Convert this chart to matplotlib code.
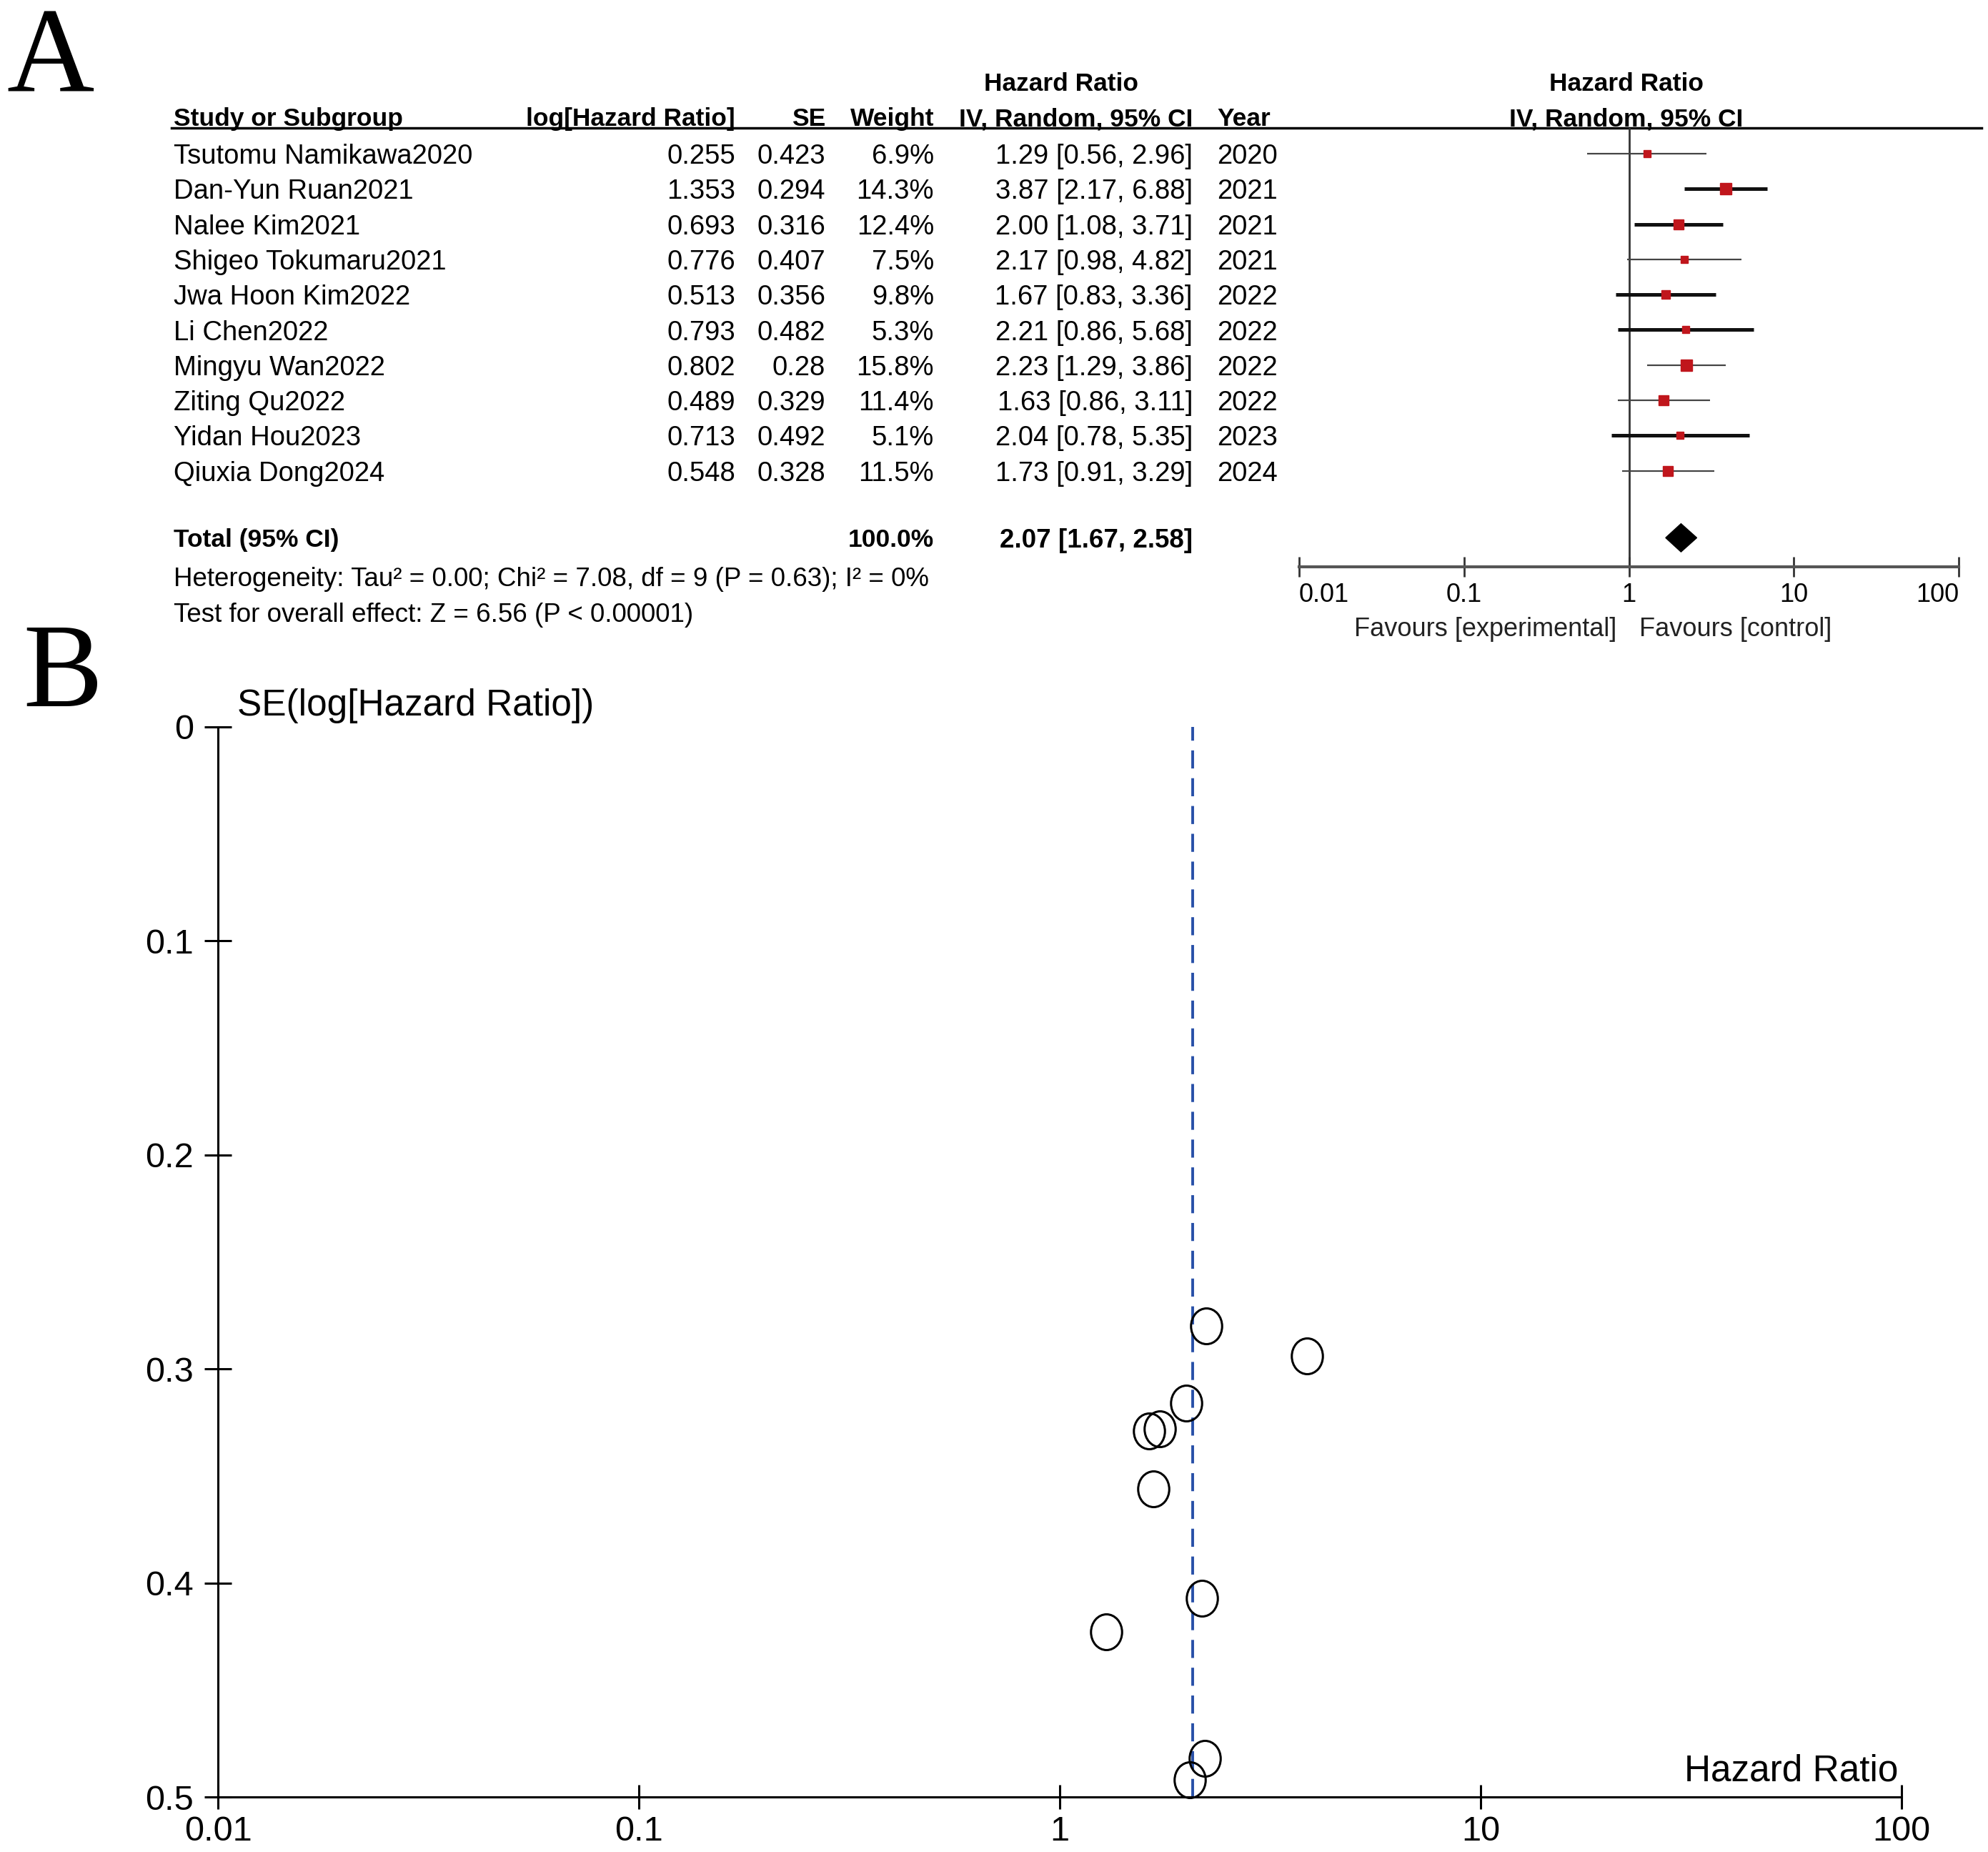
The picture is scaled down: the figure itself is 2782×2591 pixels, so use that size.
import numpy as np
import matplotlib
matplotlib.use("Agg")
import matplotlib.pyplot as plt
from matplotlib.path import Path
from matplotlib.transforms import Affine2D

plt.rcParams['font.family'] = ['Liberation Sans', 'DejaVu Sans']

# data
studies = ['Tsutomu Namikawa2020', 'Dan-Yun Ruan2021', 'Nalee Kim2021',
           'Shigeo Tokumaru2021', 'Jwa Hoon Kim2022', 'Li Chen2022',
           'Mingyu Wan2022', 'Ziting Qu2022', 'Yidan Hou2023', 'Qiuxia Dong2024']
log_hr = [0.255, 1.353, 0.693, 0.776, 0.513, 0.793, 0.802, 0.489, 0.713, 0.548]
se = [0.423, 0.294, 0.316, 0.407, 0.356, 0.482, 0.28, 0.329, 0.492, 0.328]
weight = [6.9, 14.3, 12.4, 7.5, 9.8, 5.3, 15.8, 11.4, 5.1, 11.5]
hr = [1.29, 3.87, 2.00, 2.17, 1.67, 2.21, 2.23, 1.63, 2.04, 1.73]
ci_lo = [0.56, 2.17, 1.08, 0.98, 0.83, 0.86, 1.29, 0.86, 0.78, 0.91]
ci_hi = [2.96, 6.88, 3.71, 4.82, 3.36, 5.68, 3.86, 3.11, 5.35, 3.29]
years = [2020, 2021, 2021, 2021, 2022, 2022, 2022, 2022, 2023, 2024]
thick_ci = [False, True, True, False, True, True, False, False, True, False]

total_hr, total_lo, total_hi = 2.07, 1.67, 2.58
total_weight = 100.0
het_text = 'Heterogeneity: Tau\u00b2 = 0.00; Chi\u00b2 = 7.08, df = 9 (P = 0.63); I\u00b2 = 0%'
test_text = 'Test for overall effect: Z = 6.56 (P < 0.00001)'

forest_ticks = [0.01, 0.1, 1, 10, 100]
forest_labels = ['0.01', '0.1', '1', '10', '100']
se_ticks = [0, 0.1, 0.2, 0.3, 0.4, 0.5]
se_labels = ['0', '0.1', '0.2', '0.3', '0.4', '0.5']

W, H = 2782, 2591
ROW0, ROWH = 215, 49.3


def row_of(px):
    return (px - ROW0) / ROWH


fig = plt.figure(figsize=(W / 100, H / 100), dpi=100)

# ---- panel A: table part
axt = fig.add_axes([0, 1 - 1000 / H, 1, 1000 / H])
axt.set_xlim(0, W)
axt.set_ylim(row_of(1000), row_of(0))
axt.axis('off')

axt.text(9, row_of(128), 'A', family='Liberation Serif', fontsize=122, va='baseline')

fs = 27.5
hfs = 25.5
hy1 = row_of(163)
hy2 = row_of(114)
axt.text(243, hy1, 'Study or Subgroup', fontsize=hfs, weight='bold', va='center_baseline')
axt.text(1029, hy1, 'log[Hazard Ratio]', fontsize=hfs, weight='bold', ha='right', va='center_baseline')
axt.text(1155, hy1, 'SE', fontsize=hfs, weight='bold', ha='right', va='center_baseline')
axt.text(1307, hy1, 'Weight', fontsize=hfs, weight='bold', ha='right', va='center_baseline')
axt.text(1669, hy1, 'IV, Random, 95% CI', fontsize=hfs, weight='bold', ha='right', va='center_baseline')
axt.text(1703, hy1, 'Year', fontsize=hfs, weight='bold', va='center_baseline')
axt.text(2276, hy1, 'IV, Random, 95% CI', fontsize=hfs, weight='bold', ha='center', va='center_baseline')
axt.text(1485, hy2, 'Hazard Ratio', fontsize=hfs, weight='bold', ha='center', va='center_baseline')
axt.text(2276, hy2, 'Hazard Ratio', fontsize=hfs, weight='bold', ha='center', va='center_baseline')
axt.axhline(row_of(179), xmin=240 / W, xmax=2773 / W, color='black', lw=2.5)

for i, name in enumerate(studies):
    axt.text(243, i, name, fontsize=fs, va='center_baseline')
    axt.text(1029, i, f'{log_hr[i]:g}', fontsize=fs, ha='right', va='center_baseline')
    axt.text(1155, i, f'{se[i]:g}', fontsize=fs, ha='right', va='center_baseline')
    axt.text(1307, i, f'{weight[i]:.1f}%', fontsize=fs, ha='right', va='center_baseline')
    axt.text(1669, i, f'{hr[i]:.2f} [{ci_lo[i]:.2f}, {ci_hi[i]:.2f}]', fontsize=fs,
             ha='right', va='center_baseline')
    axt.text(1703, i, str(years[i]), fontsize=fs, va='center_baseline')

total_row = 10.9
axt.text(243, total_row, 'Total (95% CI)', fontsize=hfs, weight='bold', va='center_baseline')
axt.text(1307, total_row, f'{total_weight:.1f}%', fontsize=hfs, weight='bold', ha='right', va='center_baseline')
axt.text(1669, total_row, f'{total_hr:.2f} [{total_lo:.2f}, {total_hi:.2f}]', fontsize=hfs + 1,
         weight='bold', ha='right', va='center_baseline')
axt.text(243, row_of(807), het_text, fontsize=26.5, va='center_baseline')
axt.text(243, row_of(857), test_text, fontsize=26.5, va='center_baseline')
axt.text(2262, row_of(876), 'Favours [experimental]', fontsize=26, ha='right', va='center_baseline', color='#222222')
axt.text(2294, row_of(876), 'Favours [control]', fontsize=26, ha='left', va='center_baseline', color='#222222')

# ---- panel A: forest plot
axf = fig.add_axes([1818 / W, 1 - 793 / H, (2741 - 1818) / W, (793 - 179) / H])
axf.set_xscale('log')
axf.set_xlim(0.01, 100)
axf.set_ylim(row_of(793), row_of(179))
axf.patch.set_alpha(0)
for s in ['top', 'right', 'left']:
    axf.spines[s].set_visible(False)
axf.spines['bottom'].set_linewidth(3)
axf.spines['bottom'].set_color('#555555')
axf.set_yticks([])
axf.set_xticks(forest_ticks)
axf.set_xticklabels(forest_labels)
axf.xaxis.set_minor_locator(matplotlib.ticker.NullLocator())
axf.tick_params(axis='x', direction='inout', length=20, width=2, labelsize=26, pad=6, color='#333333')
tl = axf.get_xticklabels()
tl[0].set_horizontalalignment('left')
tl[-1].set_horizontalalignment('right')
axf.axvline(1, color='#333333', lw=2)

for i in range(len(studies)):
    lw = 3.6 if thick_ci[i] else 1.6
    col = '#111111' if thick_ci[i] else '#444444'
    axf.plot([ci_lo[i], ci_hi[i]], [i, i], color=col, lw=lw, solid_capstyle='butt', zorder=2)
    side = 4.0 * np.sqrt(weight[i]) * 0.72
    axf.plot(hr[i], i, marker='s', ms=side, color='#c0161c', mec='#c0161c', zorder=3)

dh = 0.4
axf.fill([total_lo, total_hr, total_hi, total_hr],
         [total_row, total_row - dh, total_row, total_row + dh], color='black', zorder=3)

# ---- panel B: funnel plot
fig.text(32 / W, 1 - 988 / H, 'B', family='Liberation Serif', fontsize=120, va='baseline')

axb = fig.add_axes([305 / W, 1 - 2514 / H, (2661 - 305) / W, (2514 - 1017) / H])
axb.set_xscale('log')
axb.set_xlim(0.01, 100)
axb.set_ylim(0.5, 0)
for s in ['top', 'right']:
    axb.spines[s].set_visible(False)
for s in ['left', 'bottom']:
    axb.spines[s].set_linewidth(2.2)
axb.set_xticks(forest_ticks)
axb.set_xticklabels(forest_labels)
axb.xaxis.set_minor_locator(matplotlib.ticker.NullLocator())
axb.set_yticks(se_ticks)
axb.set_yticklabels(se_labels)
axb.tick_params(axis='x', direction='inout', length=24, width=2.2, labelsize=35, pad=7)
axb.tick_params(axis='y', direction='inout', length=27, width=2.2, labelsize=35, pad=11)

axb.axvline(total_hr, color='#2850a8', lw=2.8, dashes=(6.5, 3.5))

ellipse = Path.unit_circle().transformed(Affine2D().scale(0.87, 1.0))
axb.plot(np.exp(log_hr), se, linestyle='none', marker=ellipse, ms=36,
         mfc='none', mec='black', mew=2.2, clip_on=False, zorder=3)

fig.text(332 / W, 1 - 988 / H, 'SE(log[Hazard Ratio])', fontsize=37, va='center')
fig.text(2656 / W, 1 - 2478 / H, 'Hazard Ratio', fontsize=37, ha='right', va='center')

fig.savefig('out.png', dpi=100)
